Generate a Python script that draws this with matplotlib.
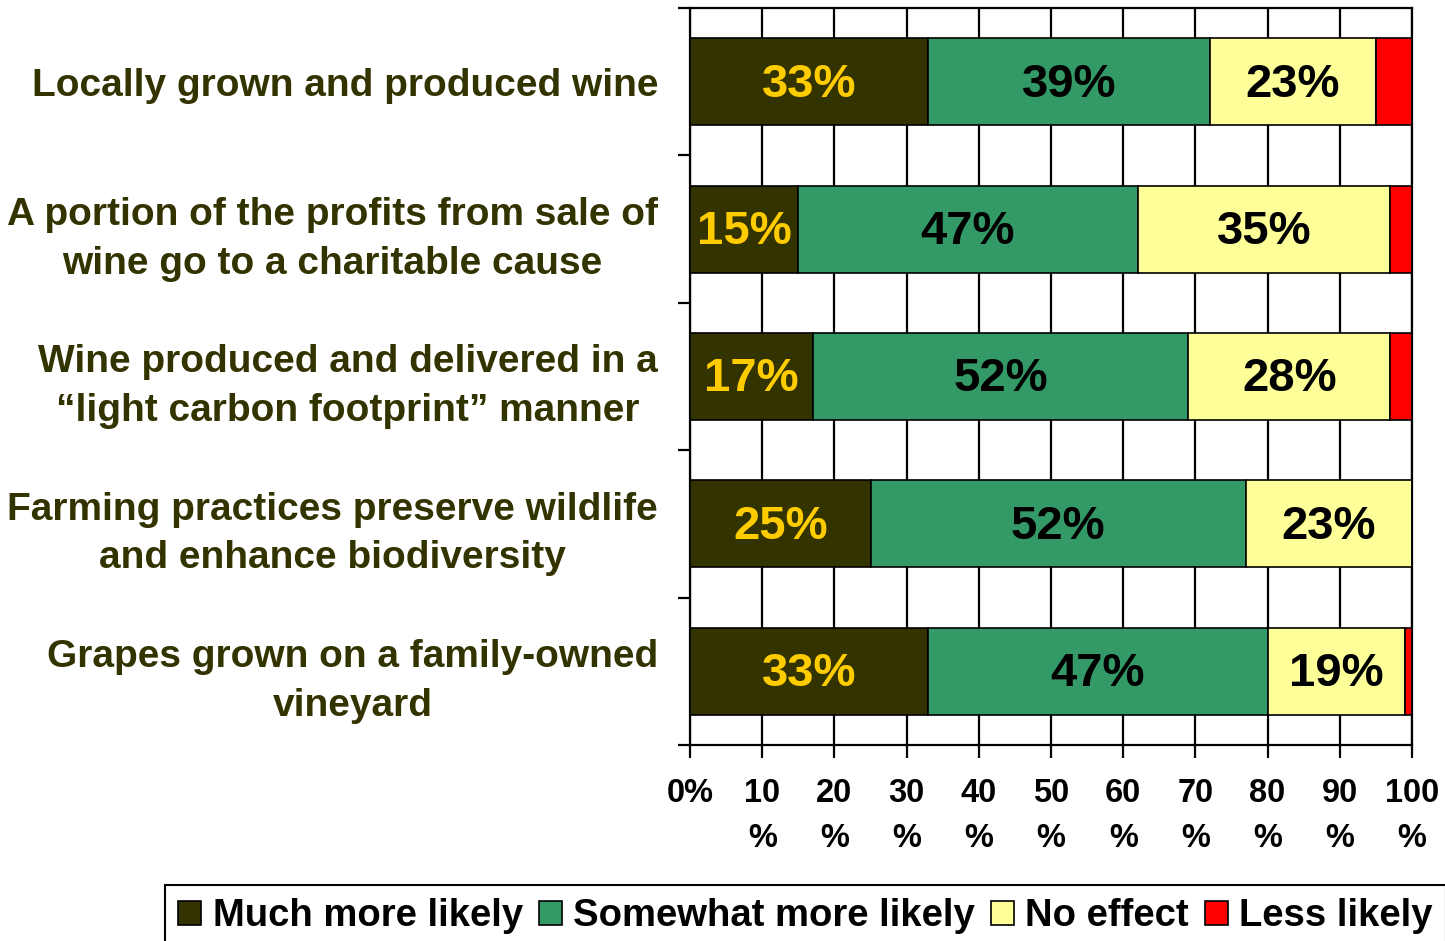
import matplotlib
matplotlib.use("Agg")
import matplotlib.pyplot as plt
from matplotlib.patches import Patch
import numpy as np

plt.rcParams['font.family'] = ['Liberation Sans', 'DejaVu Sans']
plt.rcParams['font.weight'] = 'bold'

# ——— data ———
categories = [
    "Locally grown and produced wine",
    "A portion of the profits from sale of\nwine go to a charitable cause",
    "Wine produced and delivered in a\n\u201clight carbon footprint\u201d manner",
    "Farming practices preserve wildlife\nand enhance biodiversity",
    "Grapes grown on a family-owned\nvineyard",
]
series_names = ["Much more likely", "Somewhat more likely", "No effect", "Less likely"]
much_more = [33, 15, 17, 25, 33]
somewhat_more = [39, 47, 52, 52, 47]
no_effect = [23, 35, 28, 23, 19]
less_likely = [5, 3, 3, 0, 1]
x_ticks = [0, 10, 20, 30, 40, 50, 60, 70, 80, 90, 100]
x_tick_labels = ["0%", "10\n%", "20\n%", "30\n%", "40\n%", "50\n%",
                 "60\n%", "70\n%", "80\n%", "90\n%", "100\n%"]

colors = ["#333300", "#339966", "#FFFF99", "#FF0000"]
label_colors = ["#FFCC00", "black", "black", None]

fig = plt.figure(figsize=(14.45, 9.41), dpi=100)
ax = fig.add_axes([690/1445, 1-745/941, (1412-690)/1445, (745-8)/941])

y = np.arange(len(categories))
all_series = [much_more, somewhat_more, no_effect, less_likely]
left = np.zeros(len(categories))
for vals, col, lcol in zip(all_series, colors, label_colors):
    vals = np.array(vals, dtype=float)
    ax.barh(y, vals, left=left, height=0.59, color=col, edgecolor="black",
            linewidth=1.2, zorder=3)
    if lcol is not None:
        for yi, v, l in zip(y, vals, left):
            if v > 0:
                ax.text(l + v/2, yi + 0.02, f"{int(v)}%", ha="center", va="center",
                        fontsize=34, fontweight="bold", color=lcol, zorder=4)
    left = left + vals

ax.set_xlim(0, 100)
ax.set_ylim(len(categories) - 0.5, -0.5)

# vertical grid lines
ax.set_xticks(x_ticks)
ax.set_xticklabels(x_tick_labels, fontsize=23.5, fontweight="bold", linespacing=1.55,
                   va="top")
ax.xaxis.grid(True, color="black", linewidth=1.6, zorder=0)
ax.set_axisbelow(True)
ax.tick_params(axis="x", length=9, width=1.6, pad=15, direction="out")

# y ticks at boundaries, labels at centres
ax.set_yticks(np.arange(-0.5, len(categories)), minor=False)
ax.set_yticklabels([])
ax.set_yticks(y, minor=True)
ax.set_yticklabels(categories, minor=True, fontsize=28, fontweight="bold",
                   color="#333300", multialignment="center", linespacing=1.45)
ax.tick_params(axis="y", which="major", length=9, width=1.6)
ax.tick_params(axis="y", which="minor", length=0, pad=23)

for s in ax.spines.values():
    s.set_linewidth(1.6)
    s.set_color("black")

handles = [Patch(facecolor=c, edgecolor="black", linewidth=1.2) for c in colors]
fig.legend(handles, series_names, loc="upper left",
           bbox_to_anchor=(165/1445, 1-885/941), ncol=4, frameon=True,
           fancybox=False, edgecolor="black", framealpha=1,
           prop={"size": 27.5, "weight": "bold"}, handlelength=0.6,
           handleheight=0.6, handletextpad=0.3, columnspacing=0.42,
           borderpad=0.35, borderaxespad=0)
fig.legends[0].get_frame().set_linewidth(1.5)

plt.savefig("out.png", dpi=100)
plt.close()
